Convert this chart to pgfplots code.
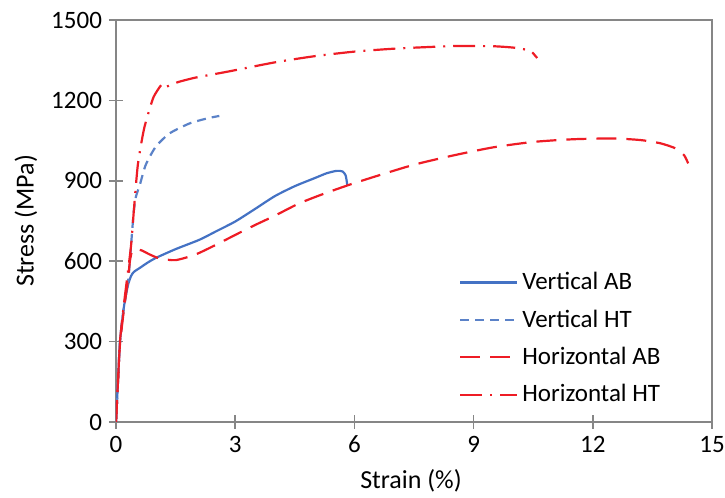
\documentclass[border=0pt]{standalone}
\usepackage{fontspec}
\setmainfont{Carlito}
\usepackage{pgfplots}
\pgfplotsset{compat=1.18}
\definecolor{vblue}{HTML}{4472C4}
\definecolor{vblueL}{HTML}{5B82C8}
\definecolor{hred}{HTML}{EE1C25}
\definecolor{axgrey}{HTML}{868686}

\begin{document}
\begin{tikzpicture}[font=\fontsize{12.5}{14}\selectfont]
\begin{axis}[
    scale only axis,
    width=298pt, height=201pt,
    xmin=0, xmax=15, ymin=0, ymax=1500,
    xtick={0,3,...,15},
    ytick={0,300,...,1500},
    tick pos=left,
    tick align=center,
    major tick length=7pt,
    axis line style={axgrey, line width=1pt},
    tick style={axgrey, line width=0.8pt},
    /pgf/number format/assume math mode=true,
    /pgf/number format/1000 sep={},
    xlabel={Strain (\%)},
    ylabel={Stress (MPa)},
    every axis x label/.style={at={(axis description cs:0.495,-0.147)}, anchor=center, font=\fontsize{13}{15}\selectfont},
    every axis y label/.style={at={(axis description cs:-0.151,0.5)}, rotate=90, anchor=center, font=\fontsize{13}{15}\selectfont},
    legend style={
        at={(axis description cs:0.565,0.393)}, anchor=north west,
        draw=none, fill=none,
        row sep=4.5pt,
        font=\fontsize{12.5}{14}\selectfont,
    },
    legend cell align={left},
    legend image code/.code={\draw[#1] (0pt,0pt) -- (28.5pt,0pt);},
]
\coordinate (SW) at (rel axis cs:0,0);
\coordinate (NE) at (rel axis cs:1,1);

% Vertical AB
\addplot[vblue, line width=1.1pt, smooth, tension=0.4] coordinates {
    (0,0) (0.05,150) (0.1,300) (0.2,430) (0.3,510) (0.38,545) (0.45,560)
    (0.6,575) (0.8,595) (1.0,612) (1.5,645) (2.1,680) (2.5,710) (3.0,748)
    (3.5,795) (4.0,843) (4.5,880) (5.0,910) (5.3,928) (5.55,937) (5.7,935)
    (5.78,920) (5.82,885)
};
\addlegendentry{Vertical AB}

% Vertical HT
\addplot[vblueL, line width=1.1pt, dash pattern=on 4.5pt off 3pt, smooth, tension=0.4] coordinates {
    (0,0) (0.05,150) (0.1,300) (0.2,430) (0.3,520) (0.35,600) (0.4,700)
    (0.45,790) (0.5,840) (0.6,885) (0.75,960) (1.0,1027) (1.35,1077)
    (1.85,1114) (2.3,1133) (2.6,1142)
};
\addlegendentry{Vertical HT}

% Horizontal AB
\addplot[hred, line width=1.1pt, dash pattern=on 10pt off 5pt, smooth, tension=0.4] coordinates {
    (0,0) (0.05,150) (0.1,290) (0.2,420) (0.3,530) (0.35,600) (0.4,635)
    (0.5,645) (0.65,640) (0.85,625) (1.1,610) (1.5,604) (2.0,625) (2.5,660)
    (3.0,698) (3.5,735) (4.0,770) (4.6,815) (5.2,850) (5.85,884) (6.5,915)
    (7.5,960) (8.5,995) (9.5,1025) (10.5,1045) (11.5,1055) (12.5,1058)
    (13.2,1052) (13.7,1040) (14.1,1020) (14.3,995) (14.4,965)
};
\addlegendentry{Horizontal AB}

% Horizontal HT
\addplot[hred, line width=1.1pt, dash pattern=on 11pt off 4pt on 1pt off 4pt, smooth, tension=0.4] coordinates {
    (0,0) (0.05,150) (0.1,300) (0.2,440) (0.3,560) (0.38,660) (0.45,790)
    (0.55,960) (0.7,1090) (0.85,1170) (0.95,1214) (1.1,1250) (1.18,1262)
    (1.25,1250) (1.4,1260) (1.6,1270) (2.0,1285) (2.8,1307) (4.0,1342)
    (5.0,1365) (6.0,1382) (7.0,1393) (8.0,1400) (8.6,1403) (9.5,1402)
    (10.0,1397) (10.3,1390) (10.45,1383) (10.6,1358)
};
\addlegendentry{Horizontal HT}
\end{axis}
\pgfresetboundingbox
\path[use as bounding box] ([xshift=-58pt,yshift=-38pt]SW) rectangle ([xshift=6.5pt,yshift=10pt]NE);
\end{tikzpicture}
\end{document}
